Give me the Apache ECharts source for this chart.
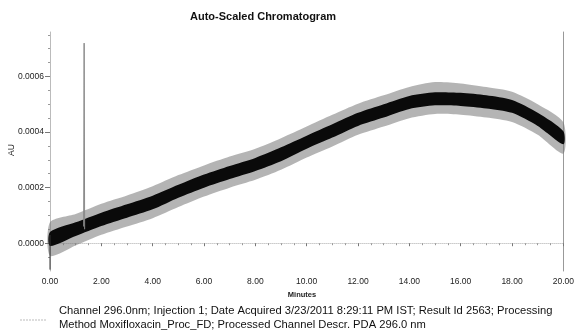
<!DOCTYPE html>
<html>
<head>
<meta charset="utf-8">
<script src="https://cdn.jsdelivr.net/npm/echarts@6/dist/echarts.min.js"></script>
<style>
html, body { margin: 0; padding: 0; background: #fff; }
#main { width: 577px; height: 333px; }
</style>
</head>
<body>
<div id="main"></div>
<script>
var minutes = [0, 1, 2, 3, 4, 5, 6, 7, 8, 9, 10, 11, 12, 13, 14, 15, 16, 17, 18, 19, 20];
// dense (black) part of the noisy baseline, AU
var coreLow  = [-0.000010, 0.000026, 0.000062, 0.000092, 0.000122, 0.000164, 0.000200, 0.000231, 0.000260, 0.000295, 0.000340, 0.000380, 0.000422, 0.000452, 0.000483, 0.000496, 0.000494, 0.000485, 0.000469, 0.000422, 0.000356];
var coreHigh = [0.000040, 0.000075, 0.000110, 0.000140, 0.000171, 0.000210, 0.000247, 0.000278, 0.000307, 0.000345, 0.000387, 0.000428, 0.000469, 0.000500, 0.000530, 0.000543, 0.000541, 0.000532, 0.000515, 0.000469, 0.000403];
// outer (grey) spikes of the noise
var outerLow  = [-0.000045, -0.000008, 0.000030, 0.000060, 0.000090, 0.000130, 0.000168, 0.000200, 0.000228, 0.000264, 0.000308, 0.000348, 0.000390, 0.000420, 0.000450, 0.000465, 0.000462, 0.000452, 0.000436, 0.000390, 0.000322];
var outerHigh = [0.000075, 0.000105, 0.000142, 0.000172, 0.000205, 0.000245, 0.000280, 0.000312, 0.000340, 0.000378, 0.000420, 0.000462, 0.000502, 0.000532, 0.000562, 0.000580, 0.000575, 0.000562, 0.000545, 0.000500, 0.000435];
// the single sharp spike near 1.33 min and the drop at the start
var spike = [[1.31, 0.00006], [1.33, 0.00072], [1.35, 0.00005]];
var startDip = [[0, 0.00003], [0, -0.000095]];
// axis ticks
var yTicks = [0, 0.0002, 0.0004, 0.0006];
var yMinor = [-0.00005, 0.00005, 0.0001, 0.00015, 0.00025, 0.0003, 0.00035, 0.00045, 0.0005, 0.00055, 0.00065, 0.0007, 0.00075];

var font = 'Liberation Sans, Arial, sans-serif';

// one polygon per band, built through the axes
function band(low, high, color, opacity) {
	return {
		type: 'custom',
		silent: true,
		data: [0],
		renderItem: function (params, api) {
			var pts = [];
			for (var i = 0; i < minutes.length; i++) pts.push(api.coord([minutes[i], high[i]]));
			for (var j = minutes.length - 1; j >= 0; j--) pts.push(api.coord([minutes[j], low[j]]));
			return {
				type: 'polygon',
				shape: { points: pts, smooth: 0.25 },
				style: { fill: color, opacity: opacity }
			};
		}
	};
}

var myChart = echarts.init(document.getElementById('main'));
var option = {
	animation: false,
	grid: { left: 50, right: 10, top: 32, bottom: 62 },
	graphic: [
		{ type: 'text', x: 263, y: 17, style: { text: 'Auto-Scaled Chromatogram', font: 'bold 11px ' + font, fill: '#111', textAlign: 'center', textVerticalAlign: 'middle' } },
		{ type: 'text', x: 12, y: 150, rotation: Math.PI / 2, style: { text: 'AU', font: '8.5px ' + font, fill: '#222', textAlign: 'center', textVerticalAlign: 'middle' } },
		{ type: 'text', x: 302, y: 295, style: { text: 'Minutes', font: 'bold 7.5px ' + font, fill: '#222', textAlign: 'center', textVerticalAlign: 'middle' } },
		{ type: 'text', x: 59, y: 311, style: { text: 'Channel 296.0nm; Injection 1; Date Acquired 3/23/2011 8:29:11 PM IST; Result Id 2563; Processing', font: '11.2px ' + font, fill: '#111', textVerticalAlign: 'middle' } },
		{ type: 'text', x: 59, y: 325, style: { text: 'Method Moxifloxacin_Proc_FD; Processed Channel Descr. PDA 296.0 nm', font: '11.2px ' + font, fill: '#111', textVerticalAlign: 'middle' } },
		{ type: 'line', shape: { x1: 20, y1: 320, x2: 47, y2: 320 }, style: { stroke: '#bbb', lineWidth: 1, lineDash: [2, 1] } }
	],
	xAxis: {
		type: 'value',
		min: 0,
		max: 20,
		interval: 2,
		axisLine: { show: true, lineStyle: { color: '#ccc', type: 'dotted' } },
		axisTick: { length: 3, lineStyle: { color: '#777' } },
		minorTick: { show: true, splitNumber: 4, length: 2, lineStyle: { color: '#999' } },
		axisLabel: { fontFamily: font, fontSize: 8.5, color: '#222', margin: 6, formatter: function (v) { return v.toFixed(2); } },
		splitLine: { show: false }
	},
	yAxis: [
		{
			type: 'value',
			min: -0.0001,
			max: 0.00076,
			axisLine: { show: true, lineStyle: { color: '#bbb' } },
			axisTick: { show: true, length: 5, customValues: yTicks, lineStyle: { color: '#777' } },
			axisLabel: { fontFamily: font, fontSize: 8.5, color: '#222', margin: 6, customValues: yTicks, formatter: function (v) { return v.toFixed(4); } },
			splitLine: { show: false }
		},
		{
			type: 'value',
			position: 'left',
			min: -0.0001,
			max: 0.00076,
			axisLine: { show: false },
			axisTick: { show: true, length: 2, customValues: yMinor, lineStyle: { color: '#999' } },
			axisLabel: { show: false },
			splitLine: { show: false }
		},
		{
			type: 'value',
			position: 'right',
			min: -0.0001,
			max: 0.00076,
			axisLine: { show: true, lineStyle: { color: '#999' } },
			axisTick: { show: false },
			axisLabel: { show: false },
			splitLine: { show: false }
		}
	],
	series: [
		band(outerLow, outerHigh, '#777', 0.55),
		band(coreLow, coreHigh, '#0a0a0a', 1),
		{
			type: 'line', showSymbol: false, silent: true,
			lineStyle: { color: '#888', width: 1 },
			data: spike
		},
		{
			type: 'line', showSymbol: false, silent: true,
			lineStyle: { color: '#333', width: 1 },
			data: startDip
		}
	]
};
myChart.setOption(option);
</script>
</body>
</html>
